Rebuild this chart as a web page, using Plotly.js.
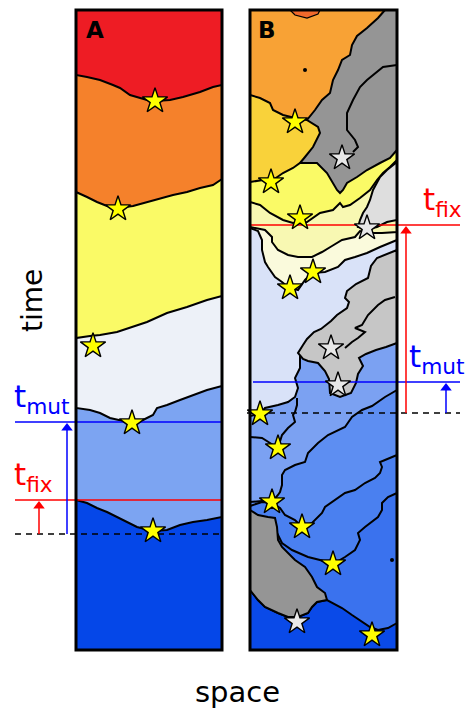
<!DOCTYPE html>
<html><head><meta charset="utf-8">
<script src="https://cdn.plot.ly/plotly-3.0.1.min.js"></script>
<style>html,body{margin:0;padding:0;background:#fff}</style>
</head><body><div id="chart" style="width:465px;height:709px"></div>
<script>
// Panel frames [x0,y0,x1,y1] in picture units
const panelA = [76, 10, 222, 650];
const panelB = [250, 10, 397, 650];

// ---- Panel A: boundaries between successive clones (left -> right) ----
const aBound1 = [[76,75],[87,77],[100,80],[113,85],[120,88],[130,95],[140,98],[147,100],[155,101],[170,100],[183,97],[200,92],[213,87],[222,85]];
const aBound2 = [[76,192],[87,197],[97,202],[107,206],[118,208],[133,206],[147,202],[160,198],[173,195],[187,192],[200,188],[213,185],[220,180],[222,179]];
const aBound3 = [[76,338],[90,336],[100,335],[117,332],[130,328],[147,322],[167,313],[187,307],[207,300],[222,296]];
const aBound4 = [[76,408],[90,410],[100,413],[110,418],[120,420],[132,423],[143,420],[153,415],[157,408],[167,405],[180,400],[193,395],[207,390],[222,386]];
const aBound5 = [[76,500],[87,503],[97,508],[107,512],[117,517],[127,522],[137,527],[153,531],[167,530],[180,525],[193,522],[207,520],[222,517]];
const aColors = ['#0547e8','#7ca4f2','#edf1f8','#fafa66','#f5812b','#ee1c24'];
const aStars = [[155,101],[118,209],[93,346],[132,423],[153,531]];

// ---- Panel B: stacked boundaries (deepest first) ----
const bD1 = [[250,590],[258,600],[265,607],[278,613],[288,617],[298,617],[308,613],[312,607],[317,602],[327,600],[342,608],[352,615],[362,622],[370,627],[378,630],[388,628],[397,623]];
const bLineB = [[250,530],[277,533],[282,543],[292,550],[308,557],[320,560],[333,564],[345,557],[355,550],[360,540],[358,533],[365,527],[378,517],[382,510],[382,503],[388,497],[397,493]];
const bLineA = [[250,506],[262,502],[272,503],[280,508],[285,515],[295,520],[302,527],[312,523],[322,513],[325,507],[335,500],[345,493],[355,490],[365,483],[375,478],[380,473],[382,467],[380,462],[385,460],[397,455]];
const bLineD = [[250,502],[262,501],[272,502],[278,495],[280,492],[282,485],[282,475],[285,470],[295,465],[305,462],[308,453],[318,443],[328,435],[345,427],[352,417],[362,410],[372,406],[385,397],[397,390]];
const bLineE = [[250,416],[260,414],[265,408],[278,405],[288,402],[295,397],[298,388],[295,378],[300,368],[300,358],[300,353],[305,345],[308,340],[315,333],[322,330],[332,322],[338,315],[348,308],[350,302],[346,298],[348,292],[357,285],[370,278],[372,267],[377,260],[385,257],[397,253]];
const bCream = [[250,228],[258,231],[262,240],[262,250],[265,262],[268,267],[275,277],[282,282],[288,287],[298,290],[305,280],[312,273],[325,272],[338,267],[345,260],[355,257],[367,253],[380,247],[390,243],[397,240]];
const bPale = [[250,227],[265,230],[272,237],[272,242],[278,250],[288,255],[298,257],[312,257],[322,252],[332,246],[342,240],[355,237],[360,231],[370,233],[382,233],[397,232]];
const bYellow = [[250,202],[260,205],[270,213],[283,220],[293,223],[307,222],[320,213],[333,210],[340,203],[343,207],[350,205],[360,198],[370,190],[377,180],[383,173],[390,167],[397,160]];
const bGold = [[250,182],[263,180],[273,180],[283,173],[293,168],[300,163],[310,160],[397,140]];
const bOrange = [[250,95],[260,98],[270,103],[273,110],[283,115],[295,118],[307,120],[330,110],[397,40]];
const bStackColors = ['#3a72ee','#4a80f0','#5d8ef2','#7ba1f2','#d9e2f8','#fafadc','#f8f8b2','#fafa66','#f9d23a','#f8a235'];

// ---- Panel B: separate patches ----
const bRedBit = [[290,10],[320,10],[318,14],[307,18],[295,15]];
const bDarkGray = [[385,10],[397,10],[397,150],[390,158],[380,163],[367,170],[357,177],[347,183],[343,190],[340,193],[337,190],[333,183],[327,173],[317,163],[310,163],[300,163],[305,157],[313,147],[320,133],[318,127],[307,120],[315,110],[322,100],[330,93],[333,80],[338,70],[342,60],[350,55],[352,45],[357,36],[367,28],[378,18]];
const bDarkGrayInner = [[397,65],[383,67],[367,80],[360,87],[353,100],[347,113],[347,130],[355,140],[358,147],[353,152]];
const bLightGray = [[397,162],[387,170],[380,177],[377,183],[373,190],[370,200],[367,207],[363,213],[360,220],[358,227],[368,229],[377,227],[387,222],[397,220]];
const bBand = [[397,250],[385,255],[377,258],[371,266],[368,278],[356,284],[347,291],[345,298],[349,302],[347,308],[337,315],[331,321],[321,329],[314,332],[307,339],[303,345],[298,353],[303,359],[308,361],[318,363],[325,371],[329,379],[330,393],[340,397],[351,393],[356,383],[358,374],[363,366],[359,358],[366,354],[376,350],[386,347],[397,343]];
const bBandInner = [[395,297],[385,300],[378,305],[368,315],[362,325],[355,328],[365,332],[358,338],[352,342],[345,348]];
const bLineC = [[250,437],[262,438],[270,443],[278,448],[282,435],[288,428],[295,422],[293,415],[295,412],[297,405],[297,398]];
const bGrayLow = [[250,510],[258,515],[268,517],[275,518],[277,527],[278,540],[282,547],[288,553],[295,560],[305,567],[312,577],[317,587],[325,593],[327,600],[317,602],[312,607],[308,613],[298,617],[288,617],[278,613],[265,607],[258,600],[250,590]];
const bDots = [[305,70],[392,560]];
const bYellowStars = [[295,122],[271,182],[300,218],[313,272],[290,288],[260,414],[278,448],[272,502],[302,527],[333,564],[372,635]];
const bGrayStars = [[342,158],[367,228],[331,348],[338,385],[297,622]];

// ---- Time markers ----
const tMutA = 422, tFixA = 500, tOriginA = 534;
const tMutB = 382, tFixB = 225, tOriginB = 413;
const labels = {tmut: 't<sub>mut</sub>', tfix: 't<sub>fix</sub>', time: 'time', space: 'space', A: 'A', B: 'B'};

const traces = [];
const LW = 2;
function polyTrace(pts, color, lw) {
  const xs = pts.map(p => p[0]).concat([pts[0][0]]);
  const ys = pts.map(p => p[1]).concat([pts[0][1]]);
  traces.push({type:'scatter', mode:'lines', x:xs, y:ys, fill:'toself', fillcolor:color,
    line:{color: lw === 0 ? color : '#000', width: lw === undefined ? LW : lw}, hoverinfo:'skip'});
}
function stacked(panel, bound, color) {
  const pts = [[panel[0], panel[1]]].concat(bound).concat([[panel[2], panel[1]]]);
  polyTrace(pts, color);
}
function lineTrace(pts, color, w, dash) {
  traces.push({type:'scatter', mode:'lines', x:pts.map(p=>p[0]), y:pts.map(p=>p[1]),
    line:{color:color, width:w, dash:dash||'solid'}, hoverinfo:'skip'});
}
function rectPts(p){ return [[p[0],p[1]],[p[2],p[1]],[p[2],p[3]],[p[0],p[3]]]; }

// Panel A
polyTrace(rectPts(panelA), aColors[0], 0);
[aBound5, aBound4, aBound3, aBound2, aBound1].forEach((b, i) => stacked(panelA, b, aColors[i+1]));

// Panel B
polyTrace(rectPts(panelB), '#0a4ae8', 0);
[bD1, bLineB, bLineA, bLineD, bLineE, bCream, bPale, bYellow, bGold, bOrange].forEach((b, i) => stacked(panelB, b, bStackColors[i]));
polyTrace(bRedBit, '#f06a2c', 1.2);
polyTrace(bDarkGray, '#959595');
lineTrace(bDarkGrayInner, '#000', LW);
polyTrace(bLightGray, '#dedede');
polyTrace(bBand, '#c6c6c6');
lineTrace(bBandInner, '#000', LW);
lineTrace(bLineC, '#000', LW);
polyTrace(bGrayLow, '#959595');
traces.push({type:'scatter', mode:'markers', x:bDots.map(p=>p[0]), y:bDots.map(p=>p[1]),
  marker:{color:'#000', size:4}, hoverinfo:'skip'});

// time lines
lineTrace([[15,tMutA],[222,tMutA]], '#0000ff', 1.5);
lineTrace([[15,tFixA],[222,tFixA]], '#ff0000', 1.5);
lineTrace([[15,tOriginA],[222,tOriginA]], '#000', 1.5, '6px,5px');
lineTrace([[251,tFixB],[460,tFixB]], '#ff0000', 1.5);
lineTrace([[253,tMutB],[460,tMutB]], '#0000ff', 1.5);
lineTrace([[247,tOriginB],[460,tOriginB]], '#000', 1.5, '6px,5px');

// arrows: shaft + triangular head
function arrow(x, yHead, yTail, color) {
  lineTrace([[x, yTail], [x, yHead + 8]], color, 1.5);
  traces.push({type:'scatter', mode:'markers', x:[x], y:[yHead + 6],
    marker:{symbol:'triangle-up', size:10, color:color, line:{width:0}}, hoverinfo:'skip'});
}
arrow(67, tMutA, tOriginA, '#0000ff');
arrow(39, tFixA, tOriginA, '#ff0000');
arrow(406, tFixB, tOriginB, '#ff0000');
arrow(446, tMutB, tOriginB, '#0000ff');

// stars
function starTrace(pts, color) {
  traces.push({type:'scatter', mode:'markers', x:pts.map(p=>p[0]), y:pts.map(p=>p[1]),
    marker:{symbol:'star', size:19, color:color, line:{color:'#000', width:1.4}}, hoverinfo:'skip'});
}
starTrace(aStars, '#ffff00');
starTrace(bYellowStars, '#ffff00');
starTrace(bGrayStars, '#e8e8e8');

const font = 'DejaVu Sans, sans-serif';
const annotations = [
  {x:12, y:tMutA-1, xref:'x', yref:'y', xanchor:'left', yanchor:'bottom', text:labels.tmut, showarrow:false, font:{family:font, size:31, color:'#0000ff'}},
  {x:12, y:tFixA-1, xref:'x', yref:'y', xanchor:'left', yanchor:'bottom', text:labels.tfix, showarrow:false, font:{family:font, size:31, color:'#ff0000'}},
  {x:421, y:tFixB-1, xref:'x', yref:'y', xanchor:'left', yanchor:'bottom', text:labels.tfix, showarrow:false, font:{family:font, size:31, color:'#ff0000'}},
  {x:407, y:tMutB-1, xref:'x', yref:'y', xanchor:'left', yanchor:'bottom', text:labels.tmut, showarrow:false, font:{family:font, size:31, color:'#0000ff'}},
  {x:32, y:301, xref:'x', yref:'y', text:labels.time, textangle:-90, showarrow:false, font:{family:font, size:28, color:'#000'}},
  {x:237, y:692, xref:'x', yref:'y', text:labels.space, showarrow:false, font:{family:font, size:29, color:'#000'}},
  {x:95, y:30, xref:'x', yref:'y', text:labels.A, showarrow:false, font:{family:font, size:23, color:'#000', weight:'bold'}},
  {x:267, y:30, xref:'x', yref:'y', text:labels.B, showarrow:false, font:{family:font, size:23, color:'#000', weight:'bold'}}
];
const shapes = [panelA, panelB].map(p => ({type:'rect', xref:'x', yref:'y', x0:p[0], y0:p[1], x1:p[2], y1:p[3],
  line:{color:'#000', width:3}, fillcolor:'rgba(0,0,0,0)', layer:'above'}));

const layout = {
  width:465, height:709, margin:{l:0,r:0,t:0,b:0}, showlegend:false,
  paper_bgcolor:'#fff', plot_bgcolor:'#fff',
  xaxis:{range:[0,465], visible:false, fixedrange:true},
  yaxis:{range:[709,0], visible:false, fixedrange:true},
  annotations:annotations, shapes:shapes
};
Plotly.newPlot('chart', traces, layout, {staticPlot:true, displayModeBar:false});
</script></body></html>
